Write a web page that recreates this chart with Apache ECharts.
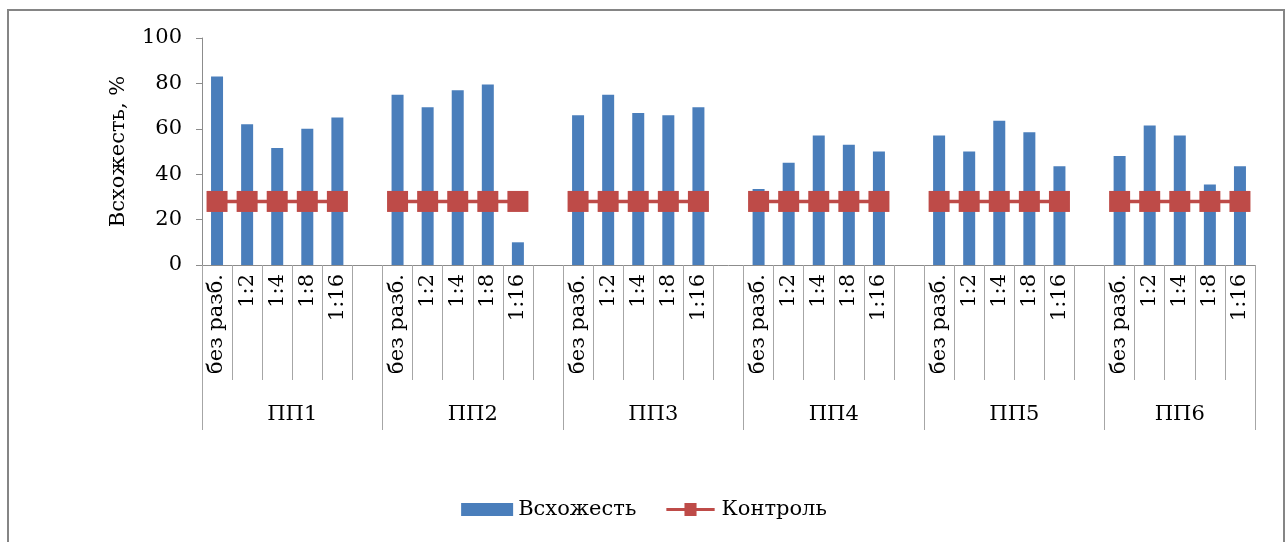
<!DOCTYPE html>
<html>
<head>
<meta charset="utf-8">
<script src="https://cdn.jsdelivr.net/npm/echarts@6/dist/echarts.min.js"></script>
<style>
  html, body { margin: 0; padding: 0; background: #ffffff; overflow: hidden; }
  #chart { position: absolute; left: 0; top: 0; width: 1288px; height: 542px; }
  #frame { position: absolute; left: 7px; top: 9px; width: 1278px; height: 600px;
           border: 2px solid #858585; pointer-events: none; box-sizing: border-box; }
</style>
</head>
<body>
<div id="chart"></div>
<div id="frame"></div>
<script>
// Plots (ПП) and dilution levels
const groups = ['ПП1', 'ПП2', 'ПП3', 'ПП4', 'ПП5', 'ПП6'];
const dilutions = ['без разб.', '1:2', '1:4', '1:8', '1:16'];

// Germination, % for each dilution within a plot
const germPP1 = [83, 62, 51.5, 60, 65];
const germPP2 = [75, 69.5, 77, 79.5, 10];
const germPP3 = [66, 75, 67, 66, 69.5];
const germPP4 = [33.5, 45, 57, 53, 50];
const germPP5 = [57, 50, 63.5, 58.5, 43.5];
const germPP6 = [48, 61.5, 57, 35.5, 43.5];
const germination = [germPP1, germPP2, germPP3, germPP4, germPP5, germPP6];

// Control germination, % per plot
const controlLevel = [28, 28, 28, 28, 28, 28];

// Y axis ticks
const yTicks = [0, 20, 40, 60, 80, 100];

// Flatten into one category axis with a blank slot between plots
const categories = [];
const barData = [];
const controlData = [];
const groupStarts = [];
groups.forEach((g, gi) => {
  if (gi > 0) { categories.push(''); barData.push(null); controlData.push(null); }
  groupStarts.push(categories.length);
  dilutions.forEach((d, di) => {
    categories.push(d);
    barData.push(germination[gi][di]);
    controlData.push(controlLevel[gi]);
  });
});
const total = categories.length;
const groupTicks = groupStarts.concat([total]);
const groupCenters = groups.map((g, gi) => {
  const s = groupStarts[gi];
  const e = gi + 1 < groups.length ? groupStarts[gi + 1] : total;
  return s + (e - s) / 2;
});

const FONT = 'DejaVu Serif';
const axisGray = '#8c8c8c';
const tickGray = '#a6a6a6';
const barBlue = '#4a7ebb';
const controlRed = '#be4b48';

// Legend glyph for the control series: a thin line with a square in the middle
const controlIcon = 'path://M0,5.5L52,5.5L52,8.5L0,8.5Z M19.5,0L32.5,0L32.5,14L19.5,14Z';

const chart = echarts.init(document.getElementById('chart'), null, { renderer: 'canvas' });
chart.setOption({
  animation: false,
  backgroundColor: '#ffffff',
  grid: { left: 202, right: 33, top: 38, bottom: 277, containLabel: false },
  legend: {
    left: 'center',
    top: 494,
    itemWidth: 52,
    itemHeight: 13,
    itemGap: 30,
    textStyle: { fontFamily: FONT, fontSize: 21, color: '#000000' },
    data: [
      { name: 'Всхожесть', icon: 'rect' },
      { name: 'Контроль', icon: controlIcon, itemStyle: { color: controlRed } }
    ]
  },
  xAxis: [
    {
      type: 'category',
      data: categories,
      boundaryGap: true,
      axisLine: { show: true, lineStyle: { color: axisGray, width: 1 } },
      axisTick: { show: true, interval: 0, length: 115, lineStyle: { color: tickGray, width: 1 } },
      axisLabel: {
        interval: 0, rotate: 90, margin: 9,
        fontFamily: FONT, fontSize: 21, color: '#000000'
      },
      splitLine: { show: false }
    },
    {
      type: 'value',
      min: 0,
      max: total,
      position: 'bottom',
      axisLine: { show: false },
      splitLine: { show: false },
      axisTick: {
        show: true, length: 165, customValues: groupTicks,
        lineStyle: { color: tickGray, width: 1 }
      },
      axisLabel: {
        show: true, customValues: groupCenters, margin: 139,
        fontFamily: FONT, fontSize: 21, color: '#000000',
        formatter: (v) => {
          const i = groupCenters.indexOf(v);
          return i >= 0 ? groups[i] : '';
        }
      }
    }
  ],
  yAxis: {
    type: 'value',
    min: yTicks[0],
    max: yTicks[yTicks.length - 1],
    interval: yTicks[1] - yTicks[0],
    name: 'Всхожесть, %',
    nameLocation: 'middle',
    nameRotate: 90,
    nameGap: 73,
    nameTextStyle: { fontFamily: FONT, fontSize: 21, color: '#000000' },
    axisLine: { show: true, lineStyle: { color: axisGray, width: 1 } },
    axisTick: { show: true, length: 6, lineStyle: { color: axisGray } },
    axisLabel: { margin: 20, fontFamily: FONT, fontSize: 21, color: '#000000' },
    splitLine: { show: false }
  },
  series: [
    {
      name: 'Всхожесть',
      type: 'bar',
      xAxisIndex: 0,
      data: barData,
      barWidth: 12,
      itemStyle: { color: barBlue }
    },
    {
      name: 'Контроль',
      type: 'line',
      xAxisIndex: 0,
      data: controlData,
      connectNulls: false,
      symbol: 'rect',
      symbolSize: 21,
      lineStyle: { color: controlRed, width: 3.5 },
      itemStyle: { color: controlRed },
      z: 3
    }
  ]
});
</script>
</body>
</html>
